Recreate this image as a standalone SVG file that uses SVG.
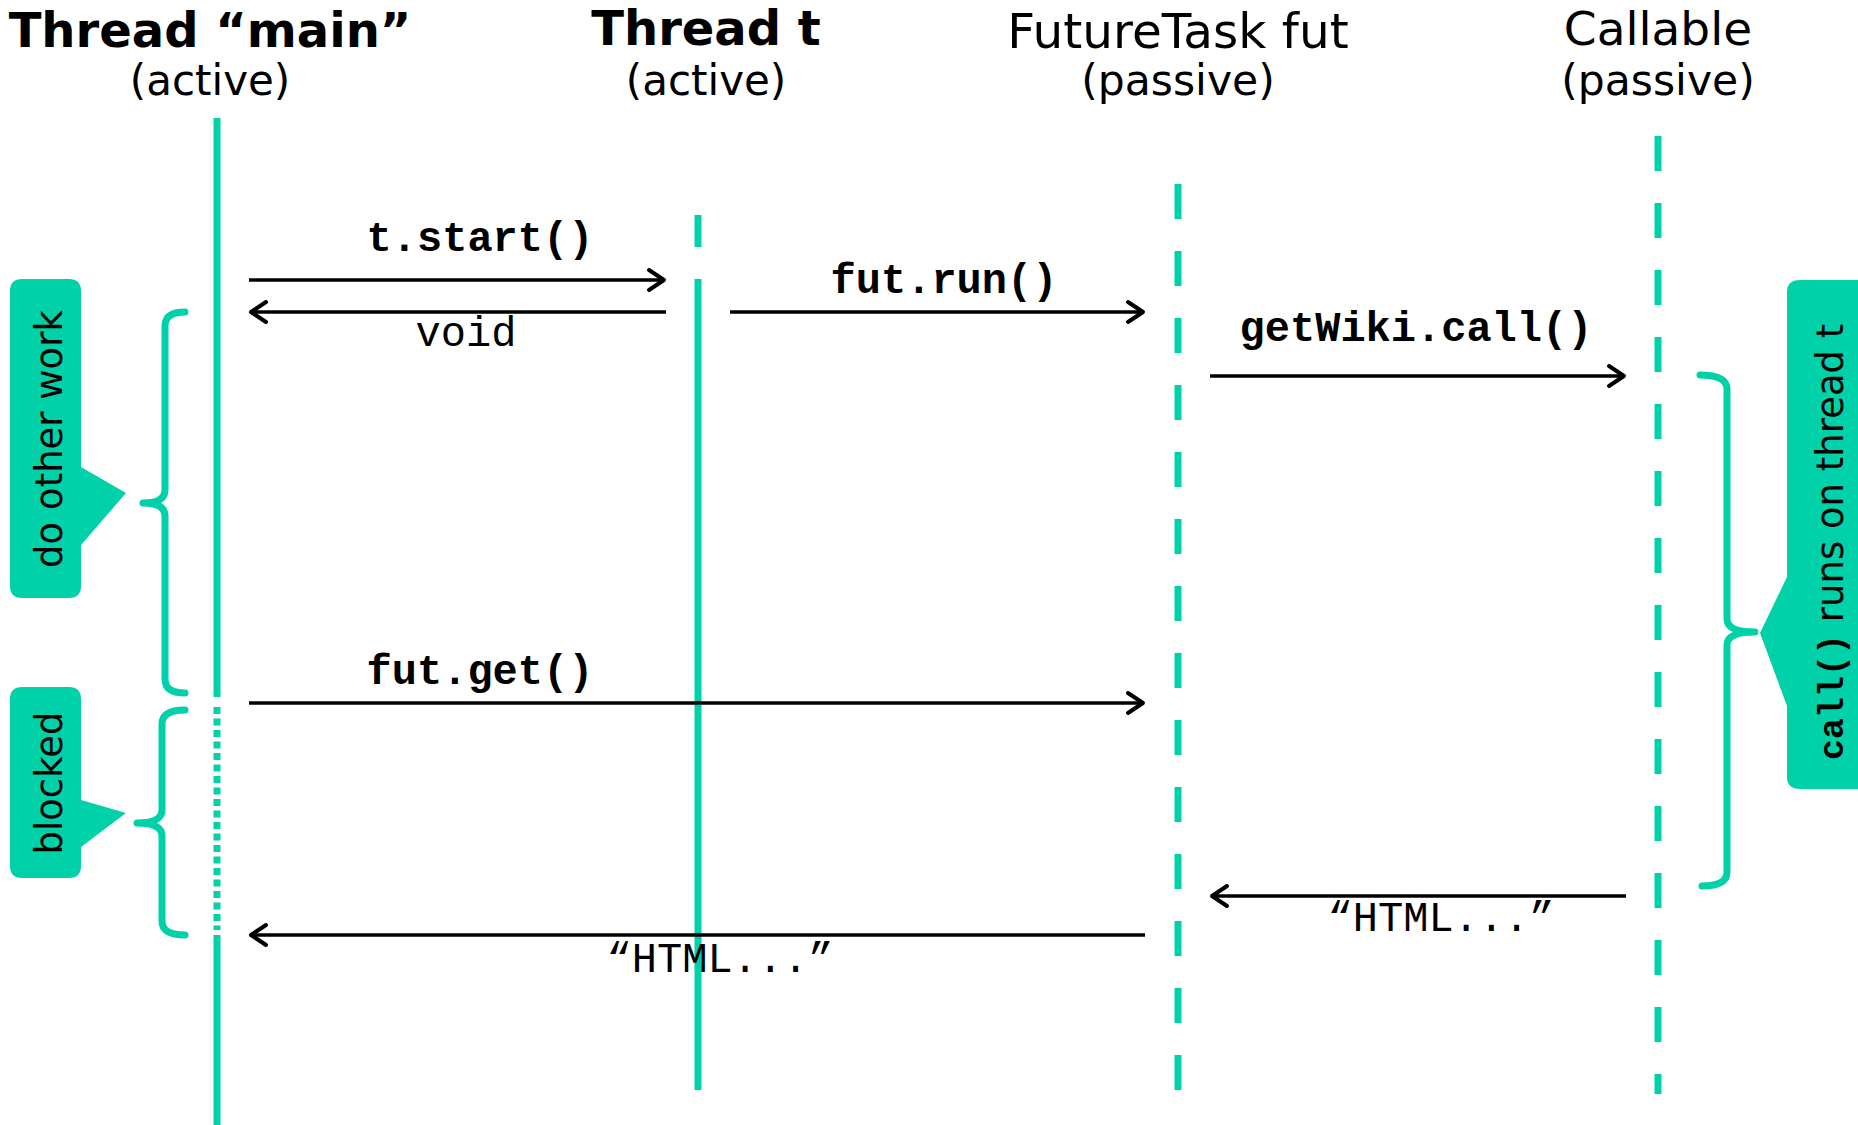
<svg xmlns="http://www.w3.org/2000/svg" width="1858" height="1125" viewBox="0 0 1858 1125">
<defs>
<style>
.hd{font-family:"DejaVu Sans",Verdana,sans-serif;text-anchor:middle;fill:#000}
.b{font-weight:bold}
.mono{font-family:"Liberation Mono","Courier New",monospace;font-size:42px;text-anchor:middle;fill:#000}
.life{stroke:#00D1A9;stroke-width:7;fill:none}
.dash{stroke-dasharray:35 32}
.msg{stroke:#000;stroke-width:3.5;fill:none;marker-end:url(#ah)}
.brace{stroke:#00D1A9;stroke-width:7;fill:none;stroke-linecap:round;stroke-linejoin:round}
.call{fill:#00D1A9}
.ct{font-family:"DejaVu Sans",Verdana,sans-serif;font-size:37px;fill:#000}
</style>
<marker id="ah" markerUnits="userSpaceOnUse" viewBox="-20 -14 24 28" markerWidth="24" markerHeight="28" refX="0" refY="0" orient="auto">
<path d="M-15,-10 L0,0 L-15,10" fill="none" stroke="#000" stroke-width="4" stroke-linecap="round" stroke-linejoin="round"/>
</marker>
</defs>
<rect width="1858" height="1125" fill="#fff"/>

<g id="main">
<text class="hd b" x="210" y="47" font-size="48">Thread “main”</text>
<text class="hd" x="210" y="95" font-size="42">(active)</text>
<line class="life" x1="217" y1="118" x2="217" y2="697"/>
<line class="life" x1="217" y1="707" x2="217" y2="930" stroke-dasharray="7 4.5"/>
<line class="life" x1="217" y1="935" x2="217" y2="1125"/>
</g>

<g id="threadT">
<text class="hd b" x="706" y="45" font-size="48">Thread t</text>
<text class="hd" x="706" y="95" font-size="42">(active)</text>
<line class="life" x1="698" y1="215" x2="698" y2="247"/>
<line class="life" x1="698" y1="279" x2="698" y2="1090"/>
</g>

<g id="futureTask">
<text class="hd" x="1178" y="48" font-size="48.5">FutureTask fut</text>
<text class="hd" x="1178" y="95" font-size="42.5">(passive)</text>
<line class="life dash" x1="1178" y1="184" x2="1178" y2="1092"/>
</g>

<g id="callable">
<text class="hd" x="1658" y="45" font-size="47">Callable</text>
<text class="hd" x="1658" y="95" font-size="42.5">(passive)</text>
<line class="life dash" x1="1658" y1="136" x2="1658" y2="1094"/>
</g>

<g id="connectors">
<line class="msg" x1="249" y1="280" x2="664" y2="280"/>
<text class="mono b" x="480" y="251">t.start()</text>
<line class="msg" x1="666" y1="312" x2="251" y2="312"/>
<text class="mono" x="466" y="346">void</text>
<line class="msg" x1="730" y1="312" x2="1143" y2="312"/>
<text class="mono b" x="944" y="293">fut.run()</text>
<line class="msg" x1="1210" y1="376" x2="1624" y2="376"/>
<text class="mono b" x="1416" y="341">getWiki.call()</text>
<line class="msg" x1="249" y1="703" x2="1143" y2="703"/>
<text class="mono b" x="480" y="684">fut.get()</text>
<line class="msg" x1="1626" y1="896" x2="1212" y2="896"/>
<text class="mono" x="1441" y="931">“HTML...”</text>
<line class="msg" x1="1145" y1="935" x2="251" y2="935"/>
<text class="mono" x="720" y="972">“HTML...”</text>
</g>

<g id="doOtherWork">
<path class="brace" d="M185,312 Q165,312 165,326 V490 Q165,503 143,503 Q165,503 165,516 V679 Q165,693 185,693"/>
<path class="call" d="M22,279 H69 Q81,279 81,291 V467 L126,493 L81,545 V586 Q81,598 69,598 H22 Q10,598 10,586 V291 Q10,279 22,279 Z"/>
<text class="ct" transform="translate(62,439) rotate(-90)" text-anchor="middle">do other work</text>
</g>

<g id="blocked">
<path class="brace" d="M185,710 Q162,710 162,724 V810 Q162,823 137,823 Q162,823 162,836 V921 Q162,935 185,935"/>
<path class="call" d="M22,687 H69 Q81,687 81,699 V800 L126,813 L81,847 V866 Q81,878 69,878 H22 Q10,878 10,866 V699 Q10,687 22,687 Z"/>
<text class="ct" transform="translate(62,783) rotate(-90)" text-anchor="middle">blocked</text>
</g>

<g id="callRuns">
<path class="brace" d="M1700,375 Q1727,375 1727,389 V619 Q1727,632 1755,632 Q1727,632 1727,645 V872 Q1727,886 1702,886"/>
<path class="call" d="M1800,280 H1870 V789 H1800 Q1787,789 1787,777 V706 L1760,633 L1787,577 V292 Q1787,280 1800,280 Z"/>
<text class="ct" transform="translate(1843,760) rotate(-90)" font-size="40"><tspan font-family="'Liberation Mono','Courier New',monospace" font-weight="bold" font-size="35">call()</tspan> runs on thread t</text>
</g>
</svg>
